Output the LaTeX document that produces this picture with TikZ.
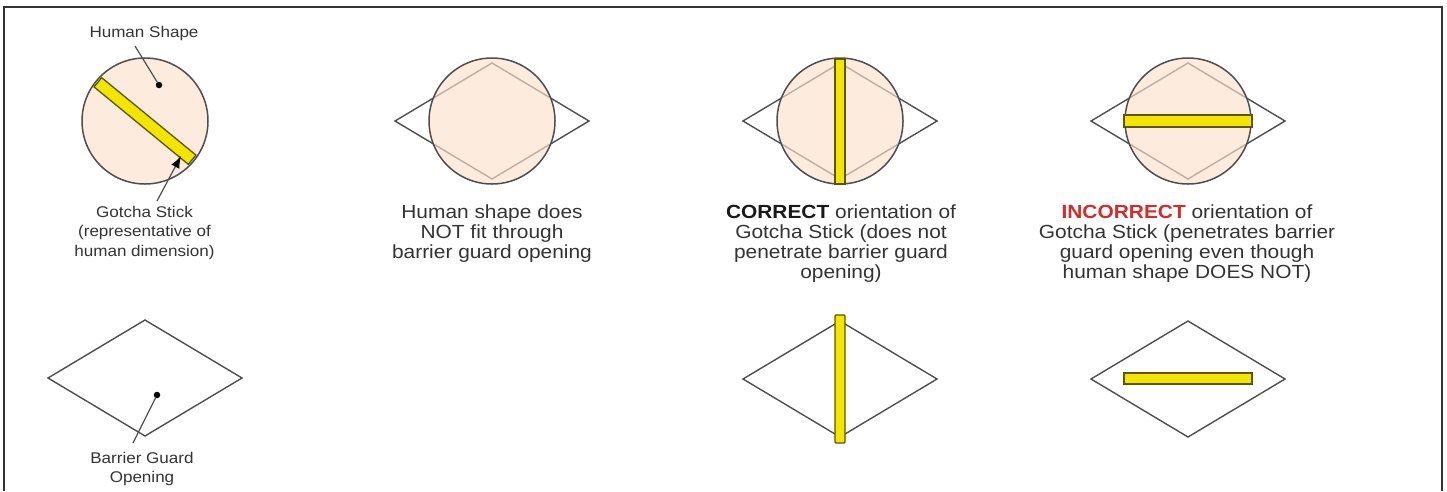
\documentclass[tikz,border=0pt]{standalone}
\usepackage{fontspec}
\setmainfont{Liberation Sans}[FakeStretch=1.1]
\usepackage{tikz}
\usetikzlibrary{arrows.meta}

\definecolor{peach}{HTML}{FCE1CC}
\definecolor{stickyellow}{HTML}{F2E600}
\definecolor{stickedge}{HTML}{5E5400}
\definecolor{linegray}{HTML}{4E4E4E}
\definecolor{textgray}{HTML}{333333}
\definecolor{wrongred}{HTML}{D42B2B}

\tikzset{
  human/.style={circle, draw=linegray, line width=1.5pt, fill=peach, fill opacity=0.65,
    minimum size=126pt, inner sep=0pt},
  opening/.style={draw=linegray, line width=1.4pt},
  stick/.style={fill=stickyellow, draw=stickedge, line width=1.3pt},
  pin/.style={circle, fill=black, inner sep=0pt, minimum size=6.5pt},
  leader/.style={draw=linegray, line width=1.2pt},
  caption/.style={align=center, text=textgray, inner sep=0pt, font=\fontsize{19}{20}\selectfont},
  smallcap/.style={align=center, text=textgray, inner sep=0pt, font=\fontsize{15.5}{19.5}\selectfont},
}

\begin{document}
\begin{tikzpicture}[x=1pt, y=-1pt]
    \useasboundingbox (0,0) rectangle (1447,491);
    \draw[line width=1.6pt, black!80] (4,491) -- (4,7) -- (1442,7) -- (1442,491);

    % barrier guard openings
    \foreach \cx/\cy in {145/378, 492/121, 840/121, 1188/121, 840/379, 1188/379} {
      \draw[opening, shift={(\cx,\cy)}] (-97,0) -- (0,-58) -- (97,0) -- (0,58) -- cycle;
    }
    % human shapes
    \node[human] (shape1) at (145,121) {};
    \node[human] (shape2) at (492,121) {};
    \node[human] (shape3) at (840,121) {};
    \node[human] (shape4) at (1188,121) {};

    % gotcha sticks
    \draw[stick, rotate around={-39.4:(145,121)}] (84,115) rectangle (206,127);
    \draw[stick] (835,59) rectangle (845,184);
    \draw[stick, rounded corners=1pt] (835,315) rectangle (845,443);
    \draw[stick] (1124,115) rectangle (1252,127);
    \draw[stick] (1124,373) rectangle (1252,384);

    % labels
    \node[smallcap] (shapelbl) at (144,33) {Human Shape};
    \node[smallcap, anchor=north] (sticklbl) at (144.5,206)
      {Gotcha Stick\\(representative of\\human dimension)};
    \node[smallcap, anchor=north] (openlbl) at (142,452) {Barrier Guard\\Opening};
    \node[caption, anchor=north] (fitlbl) at (492,205)
      {Human shape does\\NOT fit through\\barrier guard opening};
    \node[caption, anchor=north] (rightlbl) at (841,205)
      {\textcolor{black!90}{\textbf{CORRECT}} orientation of\\Gotcha Stick (does not\\penetrate barrier guard\\opening)};
    \node[caption, anchor=north] (wronglbl) at (1187,205)
      {\textcolor{wrongred}{\textbf{INCORRECT}} orientation of\\Gotcha Stick (penetrates barrier\\guard opening even though\\human shape DOES NOT)};

    % leaders
    \node[pin] (shapepin) at (159,85) {};
    \coordinate (shapetail) at (135,46);
    \draw[leader] (shapetail) -- (shapepin);
    \coordinate (sticktail) at (157,201);
    \coordinate (sticktip) at (181,156);
    \draw[leader, -{Latex[length=12pt,width=9pt,black]}] (sticktail) -- (sticktip);
    \node[pin] (openpin) at (157,395) {};
    \coordinate (opentail) at (133,443);
    \draw[leader] (openpin) -- (opentail);
\end{tikzpicture}
\end{document}
